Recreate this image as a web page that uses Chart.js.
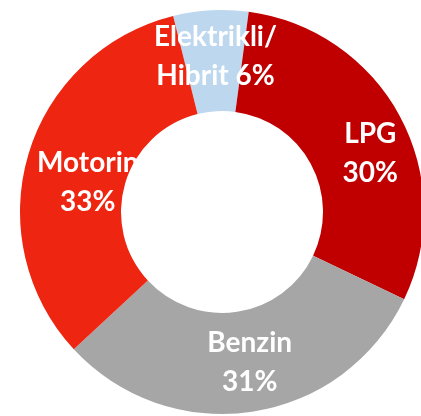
<!DOCTYPE html>
<html>
<head>
<meta charset="utf-8">
<script src="https://cdn.jsdelivr.net/npm/chart.js@4/dist/chart.umd.min.js"></script>
<style>
  html, body { margin: 0; padding: 0; background: #fff; overflow: hidden; }
  #wrap { position: absolute; left: 0; top: 0; width: 444px; height: 424px; }
</style>
</head>
<body>
<div id="wrap"><canvas id="fuelChart"></canvas></div>
<script>
// Yakıt türü dağılımı (%), saat yönünde tepeden başlayarak
const categories = ['Elektrikli/\nHibrit', 'LPG', 'Benzin', 'Motorin'];
const shares = [6, 30, 31, 33];
const sliceColors = ['#BDD7EE', '#C00000', '#A6A6A6', '#EE2510'];

// label placement tweaks relative to the arc midpoint
const labelOffsets = [[2, -4], [15, 14], [5, 1], [11, 14]];

const sliceLabels = {
    id: 'sliceLabels',
    afterDatasetsDraw(chart) {
        const ctx = chart.ctx;
        const meta = chart.getDatasetMeta(0);
        ctx.save();
        ctx.fillStyle = '#ffffff';
        ctx.font = 'bold 28px Lato';
        ctx.textAlign = 'center';
        ctx.textBaseline = 'middle';
        const lineH = 39;
        meta.data.forEach((arc, i) => {
            const pos = arc.tooltipPosition();
            const lines = categories[i].split('\n');
            const pct = shares[i] + '%';
            if (lines.length > 1) {
                lines[lines.length - 1] += ' ' + pct;
            } else {
                lines.push(pct);
            }
            const x = pos.x + labelOffsets[i][0];
            const y = pos.y + labelOffsets[i][1];
            const top = y - (lines.length - 1) * lineH / 2;
            lines.forEach((line, j) => {
                ctx.fillText(line, x, top + j * lineH);
            });
        });
        ctx.restore();
    }
};

new Chart(document.getElementById('fuelChart'), {
    type: 'doughnut',
    data: {
        labels: categories,
        datasets: [{
            data: shares,
            backgroundColor: sliceColors,
            borderWidth: 0
        }]
    },
    options: {
        responsive: true,
        maintainAspectRatio: false,
        animation: false,
        rotation: -14,
        cutout: '50%',
        layout: { padding: 10 },
        plugins: {
            legend: { display: false },
            tooltip: { enabled: false }
        }
    },
    plugins: [sliceLabels]
});
</script>
</body>
</html>
